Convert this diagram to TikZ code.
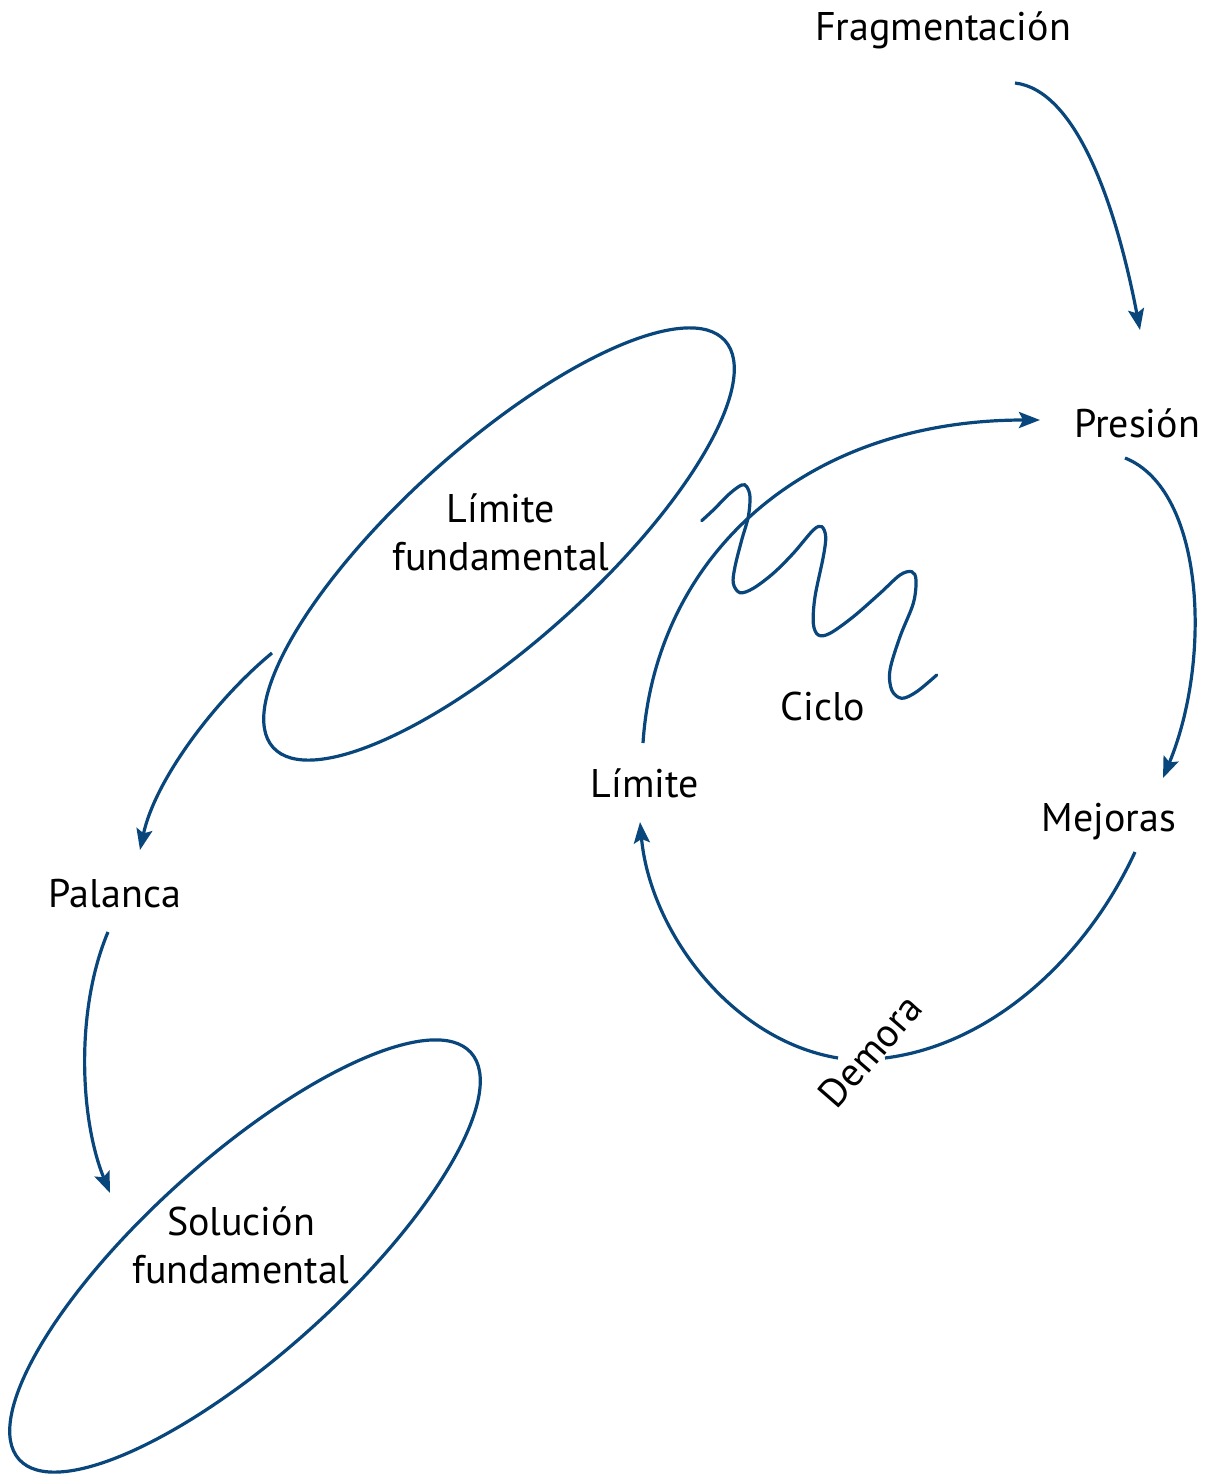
\documentclass[tikz,border=0pt]{standalone}
\usepackage{fontspec}
\setmainfont{PT Sans}
\usetikzlibrary{arrows.meta,shapes.geometric}
\definecolor{lineblue}{RGB}{8,70,124}
\begin{document}
\begin{tikzpicture}[x=1pt,y=-1pt,
  txt/.style={font=\fontsize{40}{48}\selectfont, inner sep=0pt, align=center, anchor=base},
  link/.style={draw=lineblue, line width=3.2pt},
  flow/.style={link, -{Stealth[length=21pt,width=16pt,inset=4pt]}},
  loopring/.style={draw=lineblue, line width=3.2pt, ellipse, rotate=42,
    minimum width=608pt, minimum height=196pt, inner sep=0pt}]
\useasboundingbox (0,0) rectangle (1212,1474);

% labels (multi-line labels sit on the baseline of their last line)
\node[txt] (frag) at (943,41) {Fragmentación};
\node[txt] (pres) at (1137,437) {Presión};
\node[txt] (mej)  at (1109,831) {Mejoras};
\node[txt] (lim)  at (645,797) {Límite};
\node[txt] (ciclo) at (823,720) {Ciclo};
\node[txt] (pal)  at (115,907) {Palanca};
\node[txt] (lf)   at (501,570) {Límite\\fundamental};
\node[txt] (sf)   at (241,1283) {Solución\\fundamental};
\node[txt, anchor=center, rotate=49] (dem) at (870,1051) {Demora};

% rings around the two fundamentals
\node[loopring] (lfring) at (499,544) {};
\node[loopring] (sfring) at (245,1256) {};

% connector end points
\coordinate (frag-out) at (1015,83);
\coordinate (pres-in)  at (1140,330);
\coordinate (pres-out) at (1125,458);
\coordinate (mej-in)   at (1163,778);
\coordinate (mej-out)  at (1135,852);
\coordinate (dem-r)    at (885,1058);
\coordinate (dem-l)    at (838,1058);
\coordinate (lim-in)   at (640,822);
\coordinate (lim-out)  at (643,743);
\coordinate (pres-w)   at (1040,420);
\coordinate (lf-out)   at (272,653);
\coordinate (pal-in)   at (140,850);
\coordinate (pal-out)  at (108,932);
\coordinate (sf-in)    at (110,1193);

% connectors
\draw[flow] (frag-out) .. controls (1075,90) and (1115,200) .. (pres-in);
\draw[flow] (pres-out) .. controls (1205,490) and (1212,660) .. (mej-in);
\draw[link] (mej-out) .. controls (1085,960) and (990,1045) .. (dem-r);
\draw[flow] (dem-l) .. controls (730,1040) and (650,930) .. (lim-in);
\draw[flow] (lim-out) .. controls (655,560) and (800,420) .. (pres-w);
\draw[flow] (lf-out) .. controls (215,700) and (155,780) .. (pal-in);
\draw[flow] (pal-out) .. controls (75,1010) and (80,1120) .. (sf-in);

% squiggle inside the cycle
\draw[link, line cap=round] plot[smooth, tension=0.55] coordinates {
  (701.7,520.7) (713.3,510) (730,493.3) (741.7,485) (746.7,486.7) (750,496.7)
  (748.3,516.7) (741.7,540) (735,566.7) (733.3,583.3) (740,592.7) (753.3,588.3)
  (773.3,573.3) (793.3,553.3) (813.3,530) (821.7,526.7) (825.7,536.7) (823.3,556.7)
  (815,596.7) (813.3,623.3) (818.3,635) (830,633.3) (853.3,616.7) (880,593.3)
  (900,575) (911.7,571.7) (916,580) (913.3,603.3) (900,636.7) (890,670)
  (891.7,690) (901.7,698.3) (916.7,691.7) (936.7,675)};
\end{tikzpicture}
\end{document}
